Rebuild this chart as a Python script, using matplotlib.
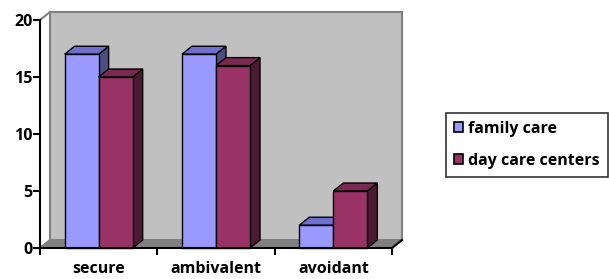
import numpy as np
import matplotlib.pyplot as plt
from matplotlib.patches import Polygon, Rectangle
from matplotlib.lines import Line2D

# ---------------- DATA ----------------
categories = ["secure", "ambivalent", "avoidant"]
family_care = [17, 17, 2]
day_care = [15, 16, 5]
series_names = ["family care", "day care centers"]
y_ticks = [0, 5, 10, 15, 20]
# --------------------------------------

FONT = "Open Sans"
FS = 11.5
DX, DY = 0.085, 0.7        # 3d depth offset (data units)
BAR_W = 0.29
YMAX = 20

# front / top / side colours per series
COLS = [("#9999ff", "#6f6fd0", "#4d4d80"),
        ("#993366", "#7a2952", "#4d1a33")]

fig = plt.figure(figsize=(6.09, 2.79), dpi=100)
ax = fig.add_axes([40 / 609, 31 / 279, 352 / 609, 228 / 279])
ax.set_xlim(0, len(categories))
ax.set_ylim(0, YMAX)

n = len(categories)

# back wall + floor
wall = Polygon([(DX, DY), (n + DX, DY), (n + DX, YMAX + DY), (DX, YMAX + DY)],
               closed=True, fc="#c0c0c0", ec="#808080", lw=1.5, clip_on=False, zorder=0)
ax.add_patch(wall)
floor = Polygon([(0, 0), (n, 0), (n + DX, DY), (DX, DY)],
                closed=True, fc="#808080", ec="#808080", lw=1, clip_on=False, zorder=1)
ax.add_patch(floor)
ax.add_line(Line2D([0, DX], [YMAX, YMAX + DY], color="#808080", lw=1.5, clip_on=False, zorder=1))
ax.add_line(Line2D([0, DX], [0, DY], color="#808080", lw=1.5, clip_on=False, zorder=1))
ax.add_line(Line2D([n, n + DX], [0, DY], color="black", lw=1.5, clip_on=False, zorder=5))


def bar3d(x0, h, cols, z):
    x1 = x0 + BAR_W
    side = Polygon([(x1, 0), (x1 + DX, DY), (x1 + DX, h + DY), (x1, h)],
                   closed=True, fc=cols[2], ec="black", lw=1, clip_on=False, zorder=z)
    top = Polygon([(x0, h), (x1, h), (x1 + DX, h + DY), (x0 + DX, h + DY)],
                  closed=True, fc=cols[1], ec="black", lw=1, clip_on=False, zorder=z)
    front = Rectangle((x0, 0), BAR_W, h, fc=cols[0], ec="black", lw=1,
                      clip_on=False, zorder=z)
    for p in (side, top, front):
        ax.add_patch(p)


for i in range(n):
    c = i + 0.5
    bar3d(c - BAR_W, family_care[i], COLS[0], 2 + i * 2)
    bar3d(c, day_care[i], COLS[1], 3 + i * 2)

# axes styling
for s in ["top", "right"]:
    ax.spines[s].set_visible(False)
for s in ["left", "bottom"]:
    ax.spines[s].set_linewidth(1.5)
    ax.spines[s].set_zorder(10)
ax.patch.set_visible(False)

ax.set_yticks(y_ticks)
ax.set_yticklabels([str(v) for v in y_ticks], fontfamily=FONT,
                   fontweight="bold", fontsize=FS)
ax.tick_params(axis="y", length=5, width=1.5, pad=0.5)

ax.set_xticks(np.arange(n + 1))
ax.set_xticklabels([])
ax.set_xticks(np.arange(n) + 0.5, minor=True)
ax.set_xticklabels(categories, minor=True, fontfamily=FONT,
                   fontweight="bold", fontsize=FS)
ax.tick_params(axis="x", which="major", length=5, width=1.5)
ax.tick_params(axis="x", which="minor", length=0, pad=9.5)

# legend
handles = [Rectangle((0, 0), 1, 1, fc=COLS[k][0], ec="black", lw=1.2)
           for k in range(2)]
leg = fig.legend(handles, series_names, loc="upper right",
                 bbox_to_anchor=(607.5 / 609, 1 - 113 / 279),
                 prop={"family": FONT, "weight": "bold", "size": FS},
                 frameon=True, fancybox=False, edgecolor="black",
                 handlelength=0.6, handleheight=0.6, handletextpad=0.3,
                 labelspacing=1.0, borderpad=0.5, borderaxespad=0)
leg.get_frame().set_linewidth(1.2)

fig.savefig("out.png", dpi=100)
